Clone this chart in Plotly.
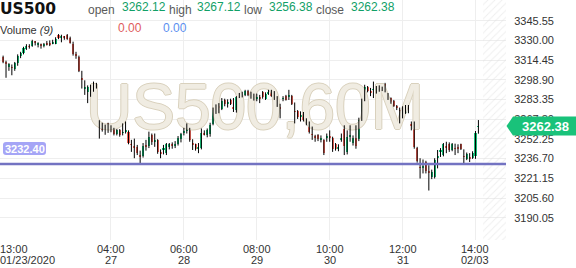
import plotly.graph_objects as go

# ---------------- data ----------------
symbol = "US500"
watermark = "US500,60M"
first_time_label = "13:00"
first_date_label = "01/23/2020"
time_labels = ["04:00", "06:00", "08:00", "10:00", "12:00", "14:00"]
date_labels = ["27", "28", "29", "30", "31", "02/03"]
label_bars = [37, 62, 87, 112, 137, 162]

open_ = [
    3317, 3313, 3309, 3309, 3307.5, 3312, 3317.5, 3320, 3324, 3325.5,
    3325.5, 3329, 3326.5, 3327, 3325.5, 3327.5, 3328, 3327.5, 3327.5, 3334,
    3332, 3333, 3334, 3332, 3327.5, 3319, 3317, 3300, 3292, 3289,
    3290, 3294, 3295, 3262, 3264, 3260, 3264.5, 3260, 3260.5, 3256,
    3259, 3257, 3258, 3258, 3248, 3246, 3246, 3239, 3238.5, 3247,
    3246.5, 3255, 3250, 3251.5, 3242, 3244, 3241, 3246, 3248, 3247,
    3248, 3252, 3257.5, 3259, 3260, 3248.5, 3248, 3245, 3245, 3257,
    3255, 3256, 3264, 3274, 3278, 3276, 3283, 3280, 3283, 3277,
    3275, 3285.5, 3287, 3287, 3290, 3287, 3287, 3284, 3285, 3289,
    3284, 3288, 3290.5, 3286, 3285, 3277, 3284, 3286, 3286, 3286,
    3274, 3274, 3270, 3272, 3266, 3265.5, 3256, 3254, 3255, 3252,
    3251, 3253, 3254, 3253, 3248, 3245, 3252, 3260, 3242, 3254,
    3249, 3253, 3252, 3268, 3283, 3293, 3290, 3291, 3289.5, 3293,
    3292, 3295.5, 3286, 3284.5, 3282, 3278, 3275, 3276, 3272.5, 3277,
    3263.5, 3265.5, 3245, 3230, 3230, 3234, 3227, 3222, 3222, 3237.5,
    3242.5, 3239.5, 3246, 3248.5, 3243.5, 3245, 3246, 3248, 3238.5, 3236.5,
    3238, 3237.5, 3239, 3262.12,
]
high = [
    3318, 3314, 3312, 3311, 3313, 3319, 3321, 3325, 3327, 3327,
    3330.5, 3329.5, 3328.5, 3327.5, 3328, 3329.5, 3330, 3330.5, 3332.5, 3335,
    3334.5, 3333.5, 3335, 3333, 3329, 3321, 3318, 3306, 3298.5, 3294.5,
    3295, 3297.5, 3296.5, 3267, 3265, 3263.5, 3265, 3263, 3261, 3260,
    3260, 3264.5, 3266, 3259, 3251.5, 3252.5, 3247.5, 3243, 3249, 3251.5,
    3258, 3256.5, 3256.5, 3252, 3244, 3247.5, 3249, 3249, 3249.5, 3250.5,
    3254.5, 3257, 3261, 3264.5, 3261, 3252, 3248.5, 3249, 3260.5, 3259,
    3260.5, 3265, 3277, 3279.5, 3280.5, 3284.5, 3284, 3283.5, 3284, 3284.5,
    3286, 3288.5, 3289.5, 3291, 3291, 3289.5, 3288, 3288, 3287, 3290,
    3289, 3291, 3291, 3290, 3286, 3280, 3286, 3287, 3291, 3287,
    3281, 3275, 3274, 3273.5, 3268.5, 3266, 3262, 3255.5, 3256, 3255,
    3252, 3256.5, 3259, 3254, 3249, 3248, 3256.5, 3263, 3259, 3263,
    3255, 3263, 3269, 3284, 3295, 3294, 3292.5, 3297.5, 3294, 3294.5,
    3293.5, 3296.5, 3288.5, 3285, 3283, 3279, 3277, 3278, 3279, 3279,
    3266, 3266, 3246, 3237, 3236, 3235, 3231.5, 3228, 3237, 3243.5,
    3245, 3249, 3250, 3249.5, 3249, 3248.5, 3248, 3248.5, 3244, 3241.5,
    3241, 3242.5, 3258.5, 3267.12,
]
low = [
    3312, 3300.5, 3306, 3302.5, 3306, 3310, 3316, 3319, 3322.5, 3323.5,
    3325, 3326, 3324.5, 3323.5, 3324.5, 3326, 3325.5, 3327, 3327, 3331,
    3328.5, 3330.5, 3330.5, 3327.5, 3318, 3315.5, 3305, 3292, 3287, 3280.5,
    3285.5, 3289.5, 3292, 3252.5, 3258, 3255.5, 3257, 3257.5, 3255, 3255,
    3254, 3255, 3256.5, 3248, 3242, 3237, 3239.5, 3232.5, 3237.5, 3243,
    3245, 3247.5, 3246, 3240.5, 3237, 3240, 3239.5, 3244, 3244.5, 3245,
    3247, 3249.5, 3255, 3256.5, 3250, 3243.5, 3243, 3241, 3244, 3255,
    3253.5, 3254, 3263, 3272, 3272.5, 3275, 3278, 3277, 3279, 3273.5,
    3273, 3284.5, 3285, 3286, 3286, 3284, 3282.5, 3282, 3280.5, 3284,
    3283, 3287, 3285.5, 3283, 3277.5, 3268.5, 3282, 3282.5, 3283, 3279,
    3264.5, 3268, 3266, 3266, 3263, 3256.5, 3251.5, 3250, 3250.5, 3249.5,
    3239.5, 3250, 3250, 3242, 3243, 3242.5, 3250, 3239.5, 3240, 3250,
    3247, 3244.5, 3250.5, 3266.5, 3282, 3289, 3286, 3284.5, 3288, 3289.5,
    3290, 3289, 3283, 3280, 3277.5, 3275, 3264.5, 3268.5, 3272, 3272.5,
    3259, 3244.5, 3233.5, 3221, 3225, 3225, 3211.5, 3220.5, 3221, 3229,
    3238, 3238.5, 3241, 3242, 3242.5, 3239.5, 3241, 3243.5, 3233, 3235.5,
    3234, 3236.5, 3236.5, 3256.38,
]
close = [
    3313, 3312, 3311, 3308.5, 3312, 3317.5, 3320, 3324, 3325.5, 3325,
    3329.5, 3328.5, 3327.5, 3326, 3327.5, 3327, 3326, 3328, 3331.5, 3332,
    3333, 3332.5, 3331, 3328, 3319, 3318, 3306, 3299.5, 3292.5, 3293,
    3294, 3295, 3294, 3261.5, 3259, 3260.5, 3260, 3259.5, 3256, 3259,
    3255, 3257.5, 3259, 3249, 3247.5, 3245.5, 3241, 3238.5, 3247, 3246.5,
    3254, 3250, 3251, 3242, 3241, 3244.5, 3248, 3248.5, 3247, 3248,
    3253, 3256, 3258, 3259.5, 3251, 3248, 3244, 3246, 3257, 3256,
    3259.5, 3263.5, 3275, 3278.5, 3277, 3282, 3279.5, 3281, 3280, 3276.5,
    3285, 3286.5, 3287.5, 3290, 3287, 3286.5, 3284, 3285, 3284, 3285,
    3288, 3289.5, 3286.5, 3285.5, 3279, 3276.5, 3284.5, 3283, 3286.5, 3280,
    3273.5, 3269.5, 3271, 3267, 3265.5, 3258, 3255.5, 3253, 3252, 3253,
    3241, 3254, 3253, 3244, 3244.5, 3246, 3253, 3247, 3254, 3255,
    3253, 3246.5, 3267.5, 3282.5, 3293, 3290, 3289, 3291.5, 3293, 3292,
    3291.5, 3290, 3285.5, 3281, 3278.5, 3277, 3274.5, 3271.5, 3277, 3276,
    3263, 3246, 3235, 3229.5, 3230.5, 3227, 3226, 3226.5, 3235.5, 3238,
    3243, 3248, 3245.5, 3243.5, 3248, 3244.5, 3245, 3244, 3238, 3240.5,
    3237, 3241.5, 3257, 3262.38,
]

y_ticks = [3190.05, 3205.60, 3221.15, 3236.70, 3252.25, 3267.80,
           3283.35, 3298.90, 3314.45, 3330.00, 3345.55]
support_level = 3232.40
volume_values = ["0.00", "0.00"]

# ---------------- geometry / style ----------------
W, H = 576, 268
PLOT_W, PLOT_H = 506, 240
BAR0_PX, BAR_STEP_PX = 3.1, 2.916
X_LO = -BAR0_PX / BAR_STEP_PX
X_HI = (PLOT_W - BAR0_PX) / BAR_STEP_PX
Y_LO, Y_HI = 3172.45, 3361.9
HATCH_START = (483 - BAR0_PX) / BAR_STEP_PX

GREEN = "#19c27a"
RED = "#f4675b"
HEAD_GREEN = "#11a067"
FONT = "Liberation Sans, Arial, sans-serif"


def px(xp):
    return xp / PLOT_W


def py(yp):
    return (PLOT_H - yp) / PLOT_H


def val_to_py(v):
    return PLOT_H - (v - Y_LO) / (Y_HI - Y_LO) * PLOT_H


n = len(close)
idx = list(range(n))

# wick segments
wx, wy = [], []
for i in idx:
    wx += [i, i, None]
    wy += [low[i], high[i], None]

body_base = [min(o, c) for o, c in zip(open_, close)]
body_h = [abs(c - o) for o, c in zip(open_, close)]
body_col = [GREEN if c >= o else RED for o, c in zip(open_, close)]

fig = go.Figure()

# hatched future area
fig.add_trace(go.Scatter(
    x=[HATCH_START, X_HI + 1, X_HI + 1, HATCH_START, HATCH_START],
    y=[Y_LO - 5, Y_LO - 5, Y_HI + 5, Y_HI + 5, Y_LO - 5],
    mode="none", fill="toself", fillcolor="rgba(0,0,0,0)",
    fillpattern=dict(shape="/", fgcolor="#dedede", bgcolor="rgba(0,0,0,0)",
                     size=5, solidity=0.18),
    hoverinfo="skip", showlegend=False))

# watermark
fig.add_trace(go.Scatter(
    x=[(255 - BAR0_PX) / BAR_STEP_PX], y=[3272.5], mode="text",
    text=[watermark], textposition="middle center",
    textfont=dict(size=64, color="#f0ece2", family=FONT,
                  shadow="1px 0 0 #d9d1bd, -1px 0 0 #d9d1bd, 0 1px 0 #d9d1bd, 0 -1px 0 #d9d1bd"),
    hoverinfo="skip", showlegend=False))

# wicks
fig.add_trace(go.Scatter(x=wx, y=wy, mode="lines",
                         line=dict(color="#000000", width=1),
                         hoverinfo="skip", showlegend=False))
# bodies
fig.add_trace(go.Bar(x=idx, y=body_h, base=body_base, width=0.7,
                     marker=dict(color=body_col, line=dict(width=0)),
                     hoverinfo="skip", showlegend=False))

shapes = []
# support line
shapes.append(dict(type="line", xref="paper", yref="y", x0=0, x1=1,
                   y0=support_level, y1=support_level,
                   line=dict(color="#7373c2", width=2.5), layer="above"))

# left support tag (rounded)
ly = val_to_py(support_level) - 15.5
x0p, x1p, y0p, y1p, r = 3, 46, ly - 6.5, ly + 6.5, 3
pts = [("M", x0p + r, y0p), ("L", x1p - r, y0p), ("Q", x1p, y0p, x1p, y0p + r),
       ("L", x1p, y1p - r), ("Q", x1p, y1p, x1p - r, y1p), ("L", x0p + r, y1p),
       ("Q", x0p, y1p, x0p, y1p - r), ("L", x0p, y0p + r), ("Q", x0p, y0p, x0p + r, y0p)]
path = ""
for p in pts:
    if p[0] == "Q":
        path += f"Q {px(p[1])},{py(p[2])} {px(p[3])},{py(p[4])} "
    else:
        path += f"{p[0]} {px(p[1])},{py(p[2])} "
path += "Z"
shapes.append(dict(type="path", xref="paper", yref="paper", path=path,
                   fillcolor="#a5a5f6", line=dict(width=0), layer="above"))

# right last-price tag with arrow
last_py = val_to_py(close[-1])
hh = 9.5
rpath = (f"M {px(506.5)},{py(last_py)} L {px(513)},{py(last_py - hh)} "
         f"L {px(576)},{py(last_py - hh)} L {px(576)},{py(last_py + hh)} "
         f"L {px(513)},{py(last_py + hh)} Z")
shapes.append(dict(type="path", xref="paper", yref="paper", path=rpath,
                   fillcolor=GREEN, line=dict(width=0), layer="above"))

ann = []


def text(xp, yp, s, size, color, anchor="left", family=FONT):
    ann.append(dict(x=px(xp), y=py(yp), xref="paper", yref="paper", text=s,
                    showarrow=False, xanchor=anchor, yanchor="middle",
                    borderpad=0, borderwidth=0,
                    font=dict(size=size, color=color, family=family)))


# header
text(0, 9.0, f"<b>{symbol}</b>", 15.5, "#111111", family="DejaVu Sans, sans-serif")
text(88, 10.0, "open", 12, "#5a5a5a")
text(122, 6.5, f"{open_[-1]:.2f}", 12, HEAD_GREEN)
text(169, 10.0, "high", 12, "#5a5a5a")
text(197, 6.5, f"{high[-1]:.2f}", 12, HEAD_GREEN)
text(244, 10.0, "low", 12, "#5a5a5a")
text(269, 6.5, f"{low[-1]:.2f}", 12, HEAD_GREEN)
text(316, 10.0, "close", 12, "#5a5a5a")
text(351, 6.5, f"{close[-1]:.2f}", 12, HEAD_GREEN)
text(0, 29.5, "Volume <i>(9)</i>", 11, "#333333")
text(118, 27.5, volume_values[0], 12, "#e05c5c")
text(163, 27.5, volume_values[1], 12, "#5b8ff0")

# support tag text
text(24.5, ly, f"<b>{support_level:.2f}</b>", 11, "#ffffff", anchor="center")
# last price text
text(545, last_py, f"<b>{close[-1]:.2f}</b>", 13, "#ffffff", anchor="center")

# x axis labels
text(0, 249.0, first_time_label, 11, "#333333")
text(0, 259.5, first_date_label, 11, "#333333")
for b, t, d in zip(label_bars, time_labels, date_labels):
    ann.append(dict(x=b, y=py(249.0), xref="x", yref="paper", text=t, showarrow=False,
                    xanchor="center", yanchor="middle", borderpad=0, borderwidth=0,
                    font=dict(size=11, color="#333333", family=FONT)))
    ann.append(dict(x=b, y=py(259.5), xref="x", yref="paper", text=d, showarrow=False,
                    xanchor="center", yanchor="middle", borderpad=0, borderwidth=0,
                    font=dict(size=11, color="#333333", family=FONT)))

fig.update_layout(
    width=W, height=H,
    margin=dict(l=0, r=W - PLOT_W, t=0, b=H - PLOT_H, pad=0),
    paper_bgcolor="white", plot_bgcolor="white",
    showlegend=False, bargap=0,
    shapes=shapes, annotations=ann,
    xaxis=dict(range=[X_LO, X_HI], tickvals=label_bars, showticklabels=False,
               showgrid=True, gridcolor="#eeeeee", gridwidth=1, zeroline=False,
               showline=False, ticks="", fixedrange=True),
    yaxis=dict(range=[Y_LO, Y_HI], side="right", tickvals=y_ticks,
               ticktext=[f"{v:.2f}" for v in y_ticks],
               showgrid=True, gridcolor="#eeeeee", gridwidth=1, zeroline=False,
               showline=False, ticks="outside", ticklen=5,
               tickcolor="rgba(0,0,0,0)",
               tickfont=dict(size=11, color="#333333", family=FONT)),
)

fig.write_html("out.html")
